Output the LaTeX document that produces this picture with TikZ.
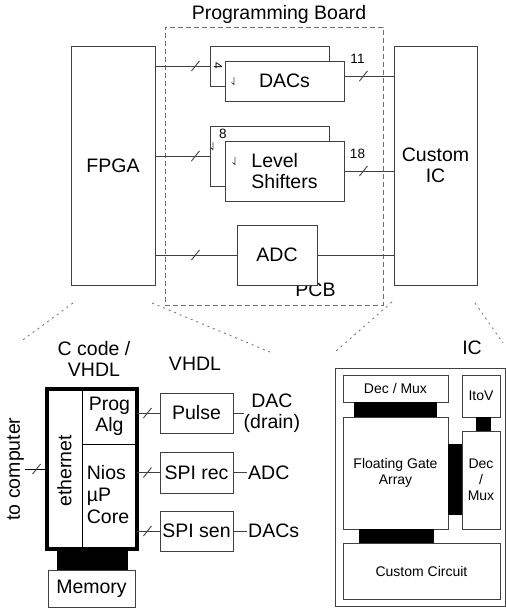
\documentclass[tikz,border=0pt]{standalone}
\usepackage{fontspec}
\setmainfont{Liberation Sans}
\usetikzlibrary{calc}
\definecolor{boxgray}{HTML}{404040}
\definecolor{fangray}{HTML}{6E6E6E}
% short diagonal stroke marking a multi-wire bus
\newcommand\busmark[1]{\draw[wire] (#1) +(-4,5) -- +(4,-5);}
% small hook marker inside the stacked boxes
\newcommand\hookmark[1]{\draw[line width=0.8pt,boxgray] (#1) +(0,-4) -- +(0,3.5) -- +(-2.5,1.5);}
\tikzset{
  box/.style={draw=boxgray, line width=0.9pt, fill=white, inner sep=0pt, align=center},
  wire/.style={draw=boxgray, line width=0.9pt},
  big/.style={font=\fontsize{19.5}{21}\selectfont},
  small/.style={font=\fontsize{14}{16}\selectfont},
  num/.style={font=\fontsize{13.5}{15}\selectfont},
  fan/.style={draw=fangray, line width=0.8pt, dash pattern=on 2pt off 4pt},
  board/.style={draw=fangray, line width=0.9pt, dash pattern=on 5pt off 3pt},
  frame/.style={draw=black, line width=3.5pt, inner sep=0pt},
  blk/.style={fill=black, inner sep=0pt},
  lbl/.style={inner sep=0pt, align=center},
}
\begin{document}
\begin{tikzpicture}[x=1pt, y=-1pt]
\useasboundingbox (0,0) rectangle (506,611);

% ---------------- programming board ----------------
\node[board, inner sep=0pt, minimum width=218pt, minimum height=278pt] (board) at (274,166) {};
\node[big, lbl] (boardlbl) at (279,14) {Programming Board};
\node[big, lbl] (pcb) at (315.5,290) {PCB};

\node[box, big, minimum width=84pt, minimum height=239pt] (fpga) at (113,165.5) {FPGA};
\node[box, big, minimum width=83pt, minimum height=239pt] (ic) at (435.5,165.5) {Custom\\IC};

% stacked DAC boxes
\node[box, minimum width=119pt, minimum height=40pt] (dacb) at (269.5,66) {};
\node[box, big, minimum width=119pt, minimum height=40pt] (dacf) at (284.5,81) {DACs};
% stacked level shifter boxes
\node[box, minimum width=119pt, minimum height=60pt] (lsb) at (269.5,156) {};
\node[box, big, minimum width=119pt, minimum height=60pt, align=left] (lsf) at (284.5,171) {Level\\Shifters};
\node[box, big, minimum width=80pt, minimum height=60pt] (adc) at (277,255) {ADC};

% bus widths and markers
\node[lbl, font=\fontsize{12}{12}\selectfont, rotate=-90] (n4) at (218,66) {4};
\node[num, lbl] (n8) at (223,134) {8};
\node[num, lbl] (n11) at (357.5,59) {11};
\node[num, lbl] (n18) at (357.5,154) {18};
\coordinate (h1) at (234,81);
\coordinate (h2) at (213,146);
\coordinate (h3) at (235,161);
\hookmark{h1}
\hookmark{h2}
\hookmark{h3}

% wires FPGA -> board -> custom IC
\draw[wire] (fpga.east |- dacb.west) -- (dacb.west);
\coordinate (s1) at ($(fpga.east |- dacb.west)+(40,0)$);
\busmark{s1}
\coordinate (dout) at ([yshift=5pt]dacf.east);
\draw[wire] (dout) -- (dout -| ic.west);
\coordinate (s2) at ($(dout)+(19,0)$);
\busmark{s2}

\draw[wire] (fpga.east |- lsb.west) -- (lsb.west);
\coordinate (s3) at ($(fpga.east |- lsb.west)+(40,0)$);
\busmark{s3}
\draw[wire] (lsf.east) -- (lsf.east -| ic.west);
\coordinate (s4) at ($(lsf.east)+(19,0)$);
\busmark{s4}

\draw[wire] (fpga.east |- adc.west) -- (adc.west);
\coordinate (s5) at ($(fpga.east |- adc.west)+(40,0)$);
\busmark{s5}
\draw[wire] (adc.east) -- (adc.east -| ic.west);

% zoom-out fan lines
\coordinate (f1a) at (73,303);  \coordinate (f1b) at (20,342);
\coordinate (f2a) at (152,303); \coordinate (f2b) at (270,352);
\coordinate (f3a) at (392,302); \coordinate (f3b) at (335,352);
\coordinate (f4a) at (475,303); \coordinate (f4b) at (503,343);
\draw[fan] (f1a) -- (f1b);
\draw[fan] (f2a) -- (f2b);
\draw[fan] (f3a) -- (f3b);
\draw[fan] (f4a) -- (f4b);

% ---------------- FPGA internals ----------------
\node[big, lbl] (ccode) at (94,359) {C code /\\VHDL};
\node[big, lbl] (vhdl) at (195,364) {VHDL};

\node[draw=black, line width=0.9pt, inner sep=0pt, minimum width=35pt, minimum height=160pt] (eth) at (64.5,469) {};
\node[big, lbl, rotate=90] (ethlbl) at (64.5,471) {ethernet};
\node[draw=black, line width=0.9pt, inner sep=0pt, big, align=center, minimum width=55pt, minimum height=55pt] (prog) at (109.5,416.5) {Prog\\Alg};
\node[draw=black, line width=0.9pt, inner sep=0pt, minimum width=55pt, minimum height=105pt] (nios) at (109.5,496.5) {};
\node[big, lbl, align=left, font=\fontsize{19.5}{22}\selectfont] (nioslbl) at (108,495) {Nios\\µP\\Core};
\node[frame, minimum width=90pt, minimum height=160pt] (core) at (92,469) {};
\node[blk, minimum width=71pt, minimum height=21pt] (membus) at (92.5,559.5) {};
\node[box, big, minimum width=87pt, minimum height=37pt] (mem) at (91.5,588.5) {Memory};

\node[big, lbl, rotate=90, anchor=south, inner sep=1pt] (tocomp) at (25,469) {to computer};
\draw[wire, draw=black] (tocomp.south) -- (tocomp.south -| eth.west);
\coordinate (s6) at ($(tocomp.south -| eth.west)+(-10,0)$);
\busmark{s6}

\node[box, big, minimum width=73pt, minimum height=40pt] (pulse) at (196.5,413) {Pulse};
\node[box, big, minimum width=73pt, minimum height=41pt] (spirec) at (196.5,472.5) {SPI rec};
\node[box, big, minimum width=73pt, minimum height=40pt] (spisen) at (196.5,531) {SPI sen};

\draw[wire] (prog.east |- pulse.west) -- (pulse.west);
\coordinate (s7) at ($(prog.east |- pulse.west)+(10,0)$);
\busmark{s7}
\draw[wire] (nios.east |- spirec.west) -- (spirec.west);
\coordinate (s8) at ($(nios.east |- spirec.west)+(10,0)$);
\busmark{s8}
\draw[wire] (nios.east |- spisen.west) -- (spisen.west);
\coordinate (s9) at ($(nios.east |- spisen.west)+(10,0)$);
\busmark{s9}

\node[big, lbl, anchor=west] (dacdrain) at (243.5,413) {DAC\\(drain)};
\node[big, lbl, anchor=west, inner sep=1pt] (adcout) at (247,472.5) {ADC};
\node[big, lbl, anchor=west, inner sep=1pt] (dacsout) at (247,531) {DACs};
\draw[wire] (pulse.east) -- (dacdrain.west);
\draw[wire] (spirec.east) -- (adcout.west);
\draw[wire] (spisen.east) -- (dacsout.west);

% ---------------- custom IC internals ----------------
\node[big, lbl] (iclbl) at (472,348) {IC};
\node[box, minimum width=170pt, minimum height=238pt] (icbox) at (420,487) {};
\node[box, small, minimum width=105pt, minimum height=27pt] (dmtop) at (395.5,388.5) {Dec / Mux};
\node[box, small, minimum width=105pt, minimum height=112pt] (fga) at (395.5,473) {Floating Gate\\Array};
\node[box, small, minimum width=38pt, minimum height=42pt] (itov) at (481,396) {ItoV};
\node[box, small, minimum width=38pt, minimum height=98pt] (dmright) at (481,480) {Dec\\/\\Mux};
\node[box, small, minimum width=157pt, minimum height=56pt] (cc) at (421.5,571) {Custom Circuit};
\node[blk, minimum width=83pt, minimum height=15pt] (bartop) at (395.5,409.5) {};
\node[blk, minimum width=15pt, minimum height=14pt] (barlink) at (483.5,424) {};
\node[blk, minimum width=14pt, minimum height=71pt] (barside) at (455,479.5) {};
\node[blk, minimum width=75pt, minimum height=14pt] (barbot) at (396.5,536) {};
\end{tikzpicture}
\end{document}
